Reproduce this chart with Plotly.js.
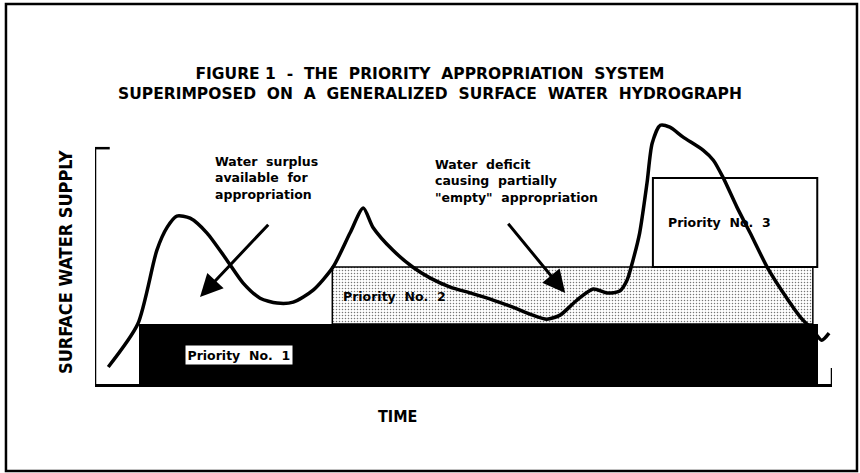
<!DOCTYPE html>
<html>
<head>
<meta charset="utf-8">
<script src="https://cdn.plot.ly/plotly-3.0.1.min.js"></script>
<style>
html,body{margin:0;padding:0;background:#fff;}
#chart{width:860px;height:473px;}
</style>
</head>
<body>
<div id="chart"></div>
<script>
// Generalized hydrograph (time in % of period, supply in relative units)
const curveTime = [1.8, 5.8, 8.4, 9.8, 11.1, 12.9, 15.2, 17.9, 20.1, 22.4, 24.7, 26.9, 29.6, 32.3, 34.6, 36.4, 37.7, 40.4, 43.1, 45.5, 48.2, 50.9, 54.0, 56.7, 59.4, 61.3, 63.1, 65.4, 67.6, 69.5, 71.2, 72.2, 73.0, 73.9, 74.9, 75.6, 76.7, 78.0, 79.8, 82.5, 83.9, 85.2, 87.1, 88.9, 91.2, 93.4, 95.7, 97.4, 98.6, 99.6];
const curveSupply = [7.2, 25.4, 56.8, 66.5, 71.2, 70.3, 64.0, 52.5, 42.8, 36.4, 34.3, 34.7, 39.8, 49.6, 64.0, 74.6, 66.5, 56.8, 49.6, 44.9, 41.1, 38.6, 35.6, 32.6, 29.2, 27.5, 29.2, 35.6, 40.3, 38.6, 39.4, 44.1, 52.5, 64.0, 85.2, 102.1, 109.7, 108.9, 104.7, 99.2, 94.9, 87.7, 75.0, 64.0, 49.6, 38.6, 28.4, 22.9, 18.6, 21.6];

// Priority appropriations
const priorityNames = ["Priority No. 1", "Priority No. 2", "Priority No. 3"];
const priorityStart = [6.0, 32.2, 75.7];
const priorityEnd   = [98.1, 97.4, 98.0];
const priorityLow   = [0, 25.4, 49.6];
const priorityHigh  = [25.4, 49.6, 87.3];

const titleText = "FIGURE 1  -  THE  PRIORITY  APPROPRIATION  SYSTEM<br>SUPERIMPOSED  ON  A  GENERALIZED  SURFACE  WATER  HYDROGRAPH";
const xTitle = "TIME";
const yTitle = "SURFACE WATER SUPPLY";
const surplusNote = "Water  surplus<br>available  for<br>appropriation";
const deficitNote = "Water  deficit<br>causing  partially<br>\"empty\"  appropriation";

const NB = s => s.replace(/  /g, "\u00a0\u00a0");
const FONT = "DejaVu Sans, Liberation Sans, Arial, sans-serif";

function block(i, marker) {
  return {
    type: "bar",
    x: [(priorityStart[i] + priorityEnd[i]) / 2],
    width: [priorityEnd[i] - priorityStart[i]],
    base: [priorityLow[i]],
    y: [priorityHigh[i] - priorityLow[i]],
    marker: marker,
    name: priorityNames[i],
    hoverinfo: "skip",
    showlegend: false
  };
}

const traces = [
  block(0, {color: "#000", line: {color: "#000", width: 0}}),
  block(1, {color: "#f4f4f4", pattern: {shape: ".", fgcolor: "#777", bgcolor: "#fff", size: 3, solidity: 0.2}, line: {color: "#000", width: 1.5}}),
  block(2, {color: "#fff", line: {color: "#000", width: 2}}),
  {
    type: "scatter", mode: "lines",
    x: curveTime, y: curveSupply,
    line: {color: "#000", width: 3.5, shape: "spline", smoothing: 0.7},
    hoverinfo: "skip", showlegend: false
  }
];

const labelFont = {family: FONT, size: 12.5, color: "#000", weight: "bold"};
const priLabelPos = [[19.5, 12.1], [40.7, 36.9], [84.8, 68.6]];

const annotations = [
  {x: priLabelPos[0][0], y: priLabelPos[0][1], xref: "x", yref: "y", text: NB("Priority  No.  1"), showarrow: false,
   font: labelFont, bgcolor: "#fff", bordercolor: "#000", borderwidth: 1.5, borderpad: 2},
  {x: priLabelPos[1][0], y: priLabelPos[1][1], xref: "x", yref: "y", text: NB("Priority  No.  2"), showarrow: false,
   font: labelFont},
  {x: priLabelPos[2][0], y: priLabelPos[2][1], xref: "x", yref: "y", text: NB("Priority  No.  3"), showarrow: false,
   font: labelFont},
  {x: 16.0, y: 87.3, xref: "x", yref: "y", text: NB(surplusNote), showarrow: false, xanchor: "left", yanchor: "middle", align: "left", font: labelFont},
  {x: 45.9, y: 86.0, xref: "x", yref: "y", text: NB(deficitNote), showarrow: false, xanchor: "left", yanchor: "middle", align: "left", font: labelFont},
  // arrows
  {x: 14.25, y: 36.9, ax: 23.7, ay: 68.2, xref: "x", yref: "y", axref: "x", ayref: "y", text: "", showarrow: true,
   arrowhead: 2, arrowsize: 1.5, arrowwidth: 3, arrowcolor: "#000"},
  {x: 63.8, y: 38.6, ax: 55.9, ay: 68.6, xref: "x", yref: "y", axref: "x", ayref: "y", text: "", showarrow: true,
   arrowhead: 2, arrowsize: 1.5, arrowwidth: 3, arrowcolor: "#000"},
  // axis titles
  {x: (65 - 95) / 737, y: (384 - 262) / 283, xref: "paper", yref: "paper", xanchor: "center", yanchor: "middle",
   text: yTitle, textangle: -90, showarrow: false,
   font: {family: "DejaVu Sans Condensed, Liberation Sans Narrow, DejaVu Sans, sans-serif", size: 18, color: "#000", weight: "bold"}},
  {x: (397 - 95) / 737, y: (384 - 416) / 283, xref: "paper", yref: "paper", xanchor: "center", yanchor: "middle",
   text: xTitle, showarrow: false,
   font: {family: "DejaVu Sans Condensed, DejaVu Sans, sans-serif", size: 16, color: "#000", weight: "bold"}}
];

const shapes = [
  // outer frame
  {type: "rect", xref: "paper", yref: "paper", x0: -0.1208, x1: 1.0339, y0: -0.3074, y1: 1.3428,
   line: {color: "#000", width: 2.5}, fillcolor: "rgba(0,0,0,0)", layer: "below"},
  // vertical axis with top tick
  {type: "line", xref: "x", yref: "y", x0: 0, x1: 0, y0: 0, y1: 100, line: {color: "#000", width: 2.5}},
  {type: "line", xref: "x", yref: "y", x0: 0, x1: 2.0, y0: 100, y1: 100, line: {color: "#000", width: 2.5}},
  // end tick on time axis
  {type: "line", xref: "x", yref: "y", x0: 100, x1: 100, y0: 0, y1: 6.8, line: {color: "#000", width: 2.5}}
];

const layout = {
  width: 860, height: 473,
  margin: {l: 95, r: 28, t: 101, b: 89, pad: 0},
  paper_bgcolor: "#fff", plot_bgcolor: "rgba(0,0,0,0)",
  barmode: "overlay", bargap: 0,
  title: {text: NB(titleText), x: 0.5, xref: "container", xanchor: "center",
          y: 1 - 79 / 473, yref: "container", yanchor: "middle",
          font: {family: FONT, size: 15.5, color: "#000", weight: "bold"}},
  xaxis: {range: [0, 100], showline: true, linecolor: "#000", linewidth: 2.5, showgrid: false, zeroline: false,
          showticklabels: false, ticks: "", fixedrange: true},
  yaxis: {range: [0, 120], showline: false, showgrid: false, zeroline: false, showticklabels: false, ticks: "", fixedrange: true},
  annotations: annotations,
  shapes: shapes,
  showlegend: false
};

Plotly.newPlot("chart", traces, layout, {displayModeBar: false, staticPlot: true});
</script>
</body>
</html>
